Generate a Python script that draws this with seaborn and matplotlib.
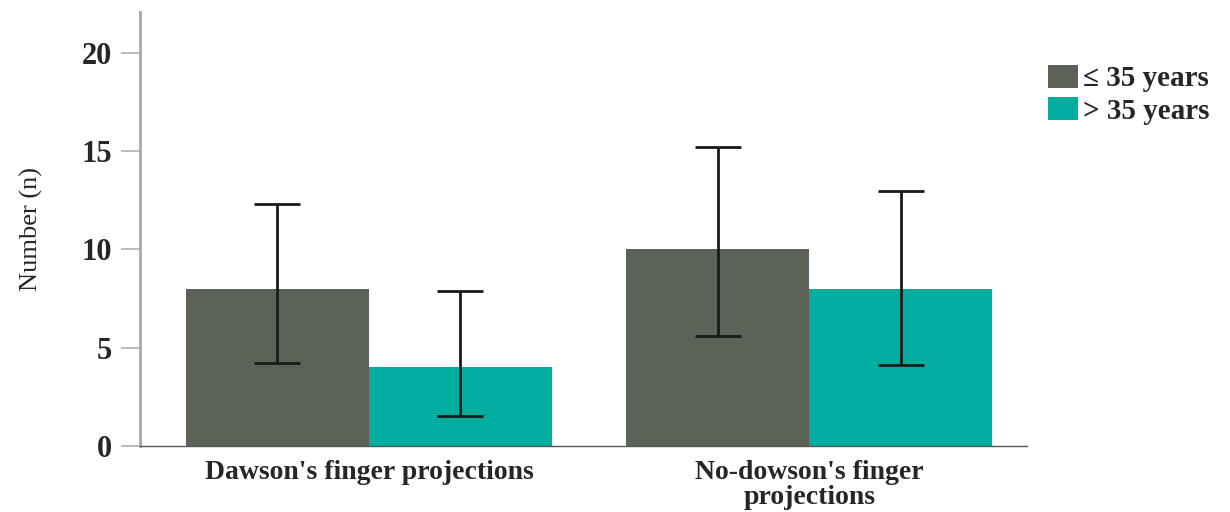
import matplotlib
matplotlib.use("Agg")
import matplotlib.pyplot as plt
import numpy as np
import pandas as pd
import seaborn as sns

# data
categories = ["Dawson's finger projections", "No-dowson's finger\nprojections"]
groups = ["\u2264 35 years", "> 35 years"]
counts_young = [8, 10]
counts_old = [4, 8]
ci_low_young = [4.2, 5.6]
ci_high_young = [12.3, 15.2]
ci_low_old = [1.5, 4.1]
ci_high_old = [7.9, 13.0]

colors = ["#5b6359", "#00ae9f"]

df = pd.DataFrame({
    "category": categories * 2,
    "group": [groups[0]] * 2 + [groups[1]] * 2,
    "count": counts_young + counts_old,
    "low": ci_low_young + ci_low_old,
    "high": ci_high_young + ci_high_old,
})

sns.set_style("white")
plt.rcParams['font.family'] = ['Liberation Serif', 'DejaVu Serif']

fig = plt.figure(figsize=(12.3, 5.12), dpi=100)
ax = fig.add_axes([0.1138, 0.129, 0.7212, 0.848])

sns.barplot(data=df, x="category", y="count", hue="group", palette=colors,
            width=0.832, errorbar=None, linewidth=0, saturation=1, ax=ax)

# custom confidence intervals, one per bar (patches are in hue order)
bars = [p for p in ax.patches if p.get_height() > 0]
for bar, (_, row) in zip(bars, df.iterrows()):
    xc = bar.get_x() + bar.get_width() / 2
    ax.errorbar(xc, row["count"],
                yerr=[[row["count"] - row["low"]], [row["high"] - row["count"]]],
                fmt="none", ecolor="#1a1a1a", elinewidth=2, capsize=16.5, capthick=2)

ax.set_xlim(-0.52, 1.495)
ax.set_ylim(0, 22.1)
ax.set_yticks([0, 5, 10, 15, 20])
ax.set_xlabel("")
ax.set_ylabel("Number (n)", fontsize=19, labelpad=28)

for lbl in ax.get_yticklabels():
    lbl.set_fontweight("bold")
for lbl in ax.get_xticklabels():
    lbl.set_fontweight("bold")
    lbl.set_linespacing(1.0)
ax.tick_params(axis="y", labelsize=22, length=14, width=1.2, color="#b0b0b0",
               direction="out", left=True, pad=6)
ax.tick_params(axis="x", labelsize=20, length=0, pad=10)

sns.despine(ax=ax, top=True, right=True)
ax.spines["left"].set_color("#a8a8a8")
ax.spines["left"].set_linewidth(2)
ax.spines["bottom"].set_color("#555555")
ax.spines["bottom"].set_linewidth(1)

ax.legend(title=None, loc="upper left", bbox_to_anchor=(1.01, 0.905), frameon=False,
          prop={"weight": "bold", "size": 21}, handlelength=1.05, handleheight=0.85,
          handletextpad=0.15, labelspacing=0.15, borderaxespad=0)

fig.savefig("out.png", dpi=100)
